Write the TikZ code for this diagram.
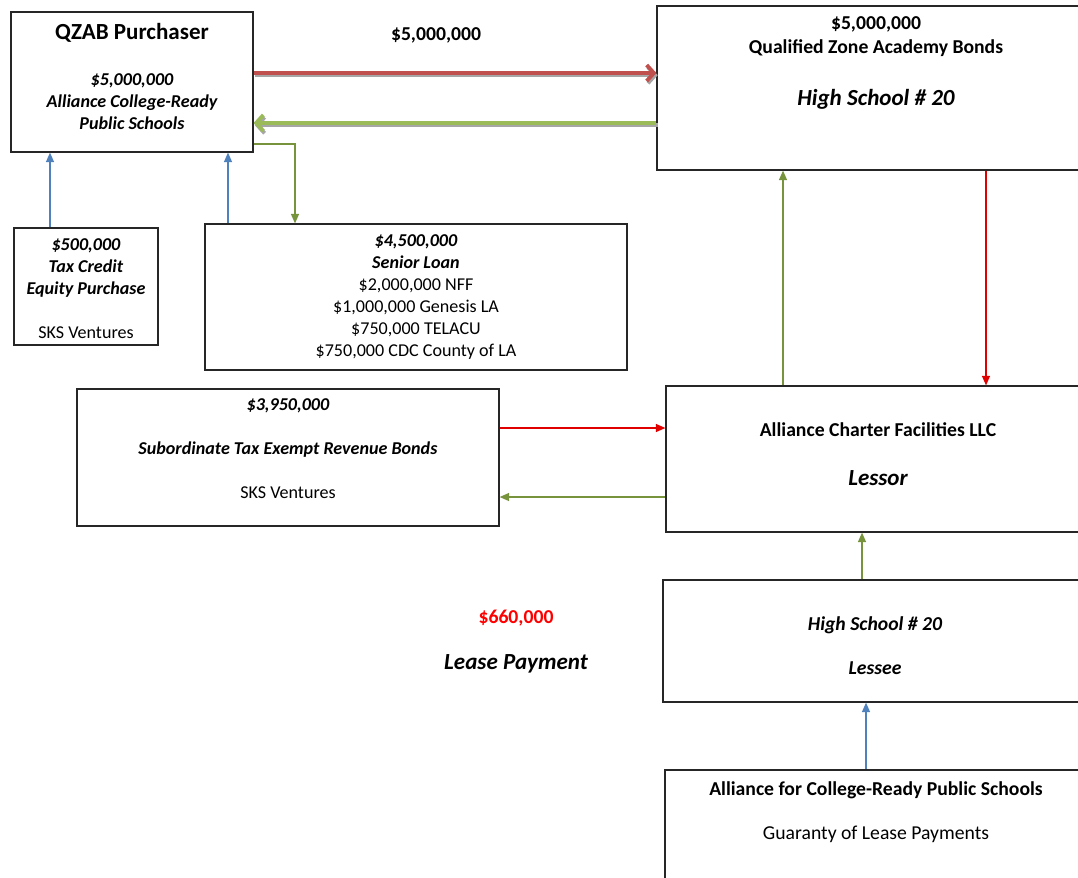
\documentclass[tikz,border=0pt]{standalone}
\usepackage{fontspec}
\setmainfont{Carlito}
\usetikzlibrary{arrows.meta,fit,calc}
\definecolor{redflow}{HTML}{C0504D}
\definecolor{greenflow}{HTML}{9BBB59}
\definecolor{greenline}{HTML}{77933C}
\definecolor{blueline}{HTML}{4F81BD}
\definecolor{redline}{HTML}{E00000}
\tikzset{
  box/.style={draw=black!85, line width=0.7pt, inner sep=0pt},
  txt/.style={align=center, font=\fontsize{12.3}{13.75}\selectfont, inner sep=0pt},
  smalltxt/.style={txt, font=\fontsize{11.3}{13.75}\selectfont},
  bitxt/.style={txt, font=\fontsize{12.3}{13.75}\selectfont\bfseries\itshape},
  bigtxt/.style={txt, font=\fontsize{14.4}{17}\selectfont\bfseries\itshape},
  thin arrow/.style={line width=0.9pt, -{Triangle[length=6pt,width=5pt]}},
  fat arrow/.style={line width=2.4pt, -{Straight Barb[length=4.5pt,width=10pt]}},
  shade arrow/.style={fat arrow, draw=black!35, transform canvas={shift={(0.8pt,-1.4pt)}}},
}
\begin{document}
\begin{tikzpicture}[x=0.625pt,y=-0.625pt]
\useasboundingbox (0,0) rectangle (1078,877);
\clip (0,0) rectangle (1078,877);

% boxes
\node[box, fit={(11,12) (253,152)}] (qzab) {};
\node[box, fit={(657,6) (1092,170)}] (bonds) {};
\node[box, fit={(14,228) (158,345)}] (tax) {};
\node[box, fit={(205,224) (627,370)}] (senior) {};
\node[box, fit={(77,389) (499,526)}] (sub) {};
\node[box, fit={(666,386) (1092,532)}] (charter) {};
\node[box, fit={(663,580) (1090,702)}] (lessee) {};
\node[box, fit={(665,770) (1090,890)}] (guaranty) {};

% texts
\node[txt, font=\fontsize{14.4}{17}\selectfont\bfseries] (qzabtitle) at (132,33) {QZAB Purchaser};
\node[smalltxt, font=\fontsize{11.3}{13.75}\selectfont\bfseries\itshape] (qzabtext) at (132,102) {\$5,000,000\\Alliance College-Ready\\Public Schools};
\node[txt, font=\fontsize{12.3}{15}\selectfont\bfseries] (bondstext) at (876,37) {\$5,000,000\\Qualified Zone Academy Bonds};
\node[bigtxt] (bondsschool) at (876,99) {High School \# 20};
\node[smalltxt] (taxtext) at (86,288.5) {\textbf{\textit{\$500,000}}\\\textbf{\textit{Tax Credit}}\\\textbf{\textit{Equity Purchase}}\\[13.75pt]SKS Ventures};
\node[smalltxt] (seniortext) at (416,297) {\textbf{\textit{\$4,500,000}}\\\textbf{\textit{Senior Loan}}\\\$2,000,000 NFF\\\$1,000,000 Genesis LA\\\$750,000 TELACU\\\$750,000 CDC County of LA};
\node[smalltxt] (subtext) at (288,448.5) {\textbf{\textit{\$3,950,000}}\\[13.75pt]\textbf{\textit{Subordinate Tax Exempt Revenue Bonds}}\\[13.75pt]SKS Ventures};
\node[txt, font=\fontsize{12.3}{13.75}\selectfont\bfseries] (chartername) at (878,430) {Alliance Charter Facilities LLC};
\node[bigtxt] (charterrole) at (878,478) {Lessor};
\node[bitxt] (lesseetext) at (875,646) {High School \# 20\\[13.75pt]Lessee};
\node[txt] (guarantytext) at (876,812) {\textbf{Alliance for College-Ready Public Schools}\\[13.75pt]Guaranty of Lease Payments};
\node[txt, font=\fontsize{12.3}{13.75}\selectfont\bfseries] (bondamount) at (436,35) {\$5,000,000};
\node[txt, font=\fontsize{12.3}{13.75}\selectfont\bfseries, text=red] (leaseamount) at (516,618) {\$660,000};
\node[bigtxt] (leaselabel) at (516,664) {Lease Payment};

% arrow rows and columns
\coordinate (ytop) at (0,73);
\coordinate (ybot) at (0,123);
\coordinate (yelbow) at (0,144);
\coordinate (xelbow) at (295,0);
\coordinate (xtax) at (50,0);
\coordinate (xsenior) at (228,0);
\coordinate (xup) at (783,0);
\coordinate (xdown) at (986,0);
\coordinate (yin) at (0,428);
\coordinate (yout) at (0,497);
\coordinate (xlessee) at (862,0);
\coordinate (xguaranty) at (866,0);

\draw[shade arrow] (qzab.east |- ytop) -- (bonds.west |- ytop);
\draw[fat arrow, redflow] (qzab.east |- ytop) -- (bonds.west |- ytop);
\draw[shade arrow] (bonds.west |- ybot) -- (qzab.east |- ybot);
\draw[fat arrow, greenflow] (bonds.west |- ybot) -- (qzab.east |- ybot);

\draw[thin arrow, blueline] (tax.north -| xtax) -- (qzab.south -| xtax);
\draw[thin arrow, blueline] (senior.north -| xsenior) -- (qzab.south -| xsenior);
\draw[thin arrow, greenline] (qzab.east |- yelbow) -| (senior.north -| xelbow);
\draw[thin arrow, greenline] (charter.north -| xup) -- (bonds.south -| xup);
\draw[thin arrow, redline] (bonds.south -| xdown) -- (charter.north -| xdown);
\draw[thin arrow, redline] (sub.east |- yin) -- (charter.west |- yin);
\draw[thin arrow, greenline] (charter.west |- yout) -- (sub.east |- yout);
\draw[thin arrow, greenline] (lessee.north -| xlessee) -- (charter.south -| xlessee);
\draw[thin arrow, blueline] (guaranty.north -| xguaranty) -- (lessee.south -| xguaranty);
\end{tikzpicture}
\end{document}
